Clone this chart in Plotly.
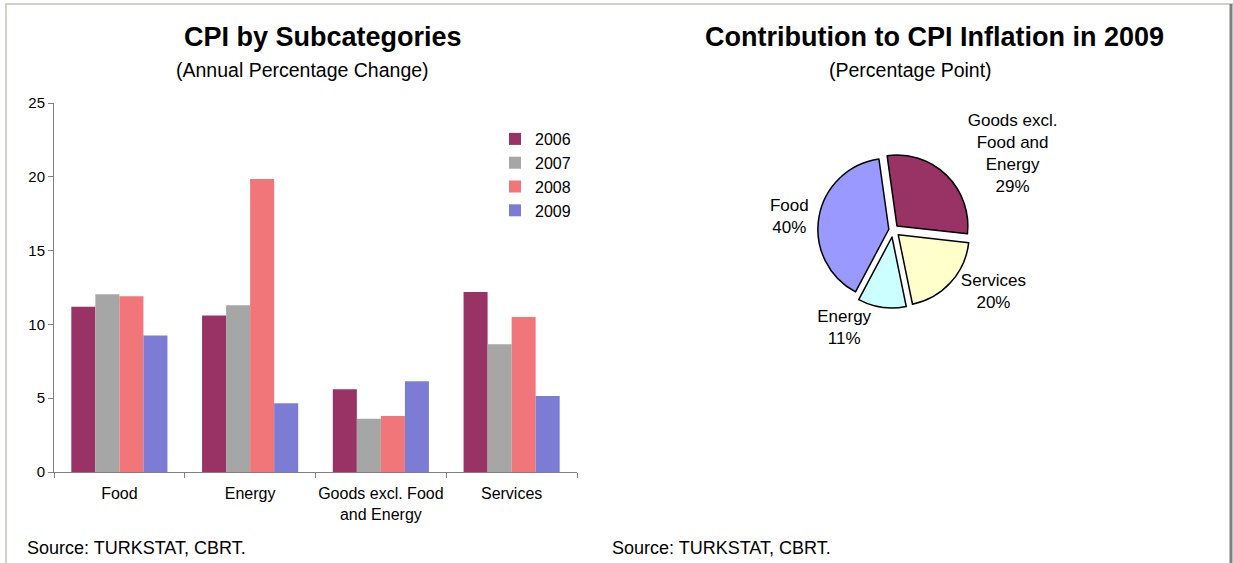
"""
CPI by subcategories and contribution to CPI inflation in 2009
"""
import plotly.graph_objects as go

# Bar chart data (annual percentage change)
categories = ["Food", "Energy", "Goods excl. Food<br>and Energy", "Services"]
years = ["2006", "2007", "2008", "2009"]
values_2006 = [11.2, 10.6, 5.6, 12.2]
values_2007 = [12.05, 11.3, 3.6, 8.65]
values_2008 = [11.9, 19.85, 3.8, 10.5]
values_2009 = [9.25, 4.65, 6.15, 5.15]

# Pie chart data (contribution, percentage point share)
pie_labels = ["Goods excl.<br>Food and<br>Energy", "Services", "Energy", "Food"]
pie_values = [29, 20, 11, 40]

FONT = "Liberation Sans, Arial, sans-serif"
W, H = 1233, 563

bar_colors = {
    "2006": "#993366",
    "2007": "#a6a6a6",
    "2008": "#f0767a",
    "2009": "#7c7cd4",
}
pie_colors = ["#993366", "#ffffcc", "#ccffff", "#9999ff"]

fig = go.Figure()

# Bars, one trace per year
for year, vals in zip(years, [values_2006, values_2007, values_2008, values_2009]):
    fig.add_trace(go.Bar(
        x=categories,
        y=vals,
        name=year,
        marker=dict(color=bar_colors[year], line=dict(width=0)),
        xaxis="x", yaxis="y",
    ))

# Pie of contributions
fig.add_trace(go.Pie(
    labels=pie_labels,
    values=pie_values,
    sort=False,
    direction="clockwise",
    rotation=-8,
    pull=[0.08, 0.1, 0.1, 0.06],
    marker=dict(colors=pie_colors, line=dict(color="black", width=1.5)),
    texttemplate="%{label}<br>%{percent:.0%}",
    textposition="outside",
    textfont=dict(family=FONT, size=17, color="black"),
    domain=dict(x=[815 / W, 971 / W], y=[1 - 308 / H, 1 - 152 / H]),
    showlegend=False,
    hoverinfo="label+percent",
))

fig.update_layout(
    width=W,
    height=H,
    margin=dict(l=0, r=0, t=0, b=0, autoexpand=False),
    paper_bgcolor="white",
    plot_bgcolor="white",
    font=dict(family=FONT, size=16, color="black"),
    barmode="group",
    bargap=0.265,
    bargroupgap=0,
    xaxis=dict(
        domain=[54 / W, 577 / W],
        automargin=False,
        showgrid=False,
        showline=True, linecolor="#808080", linewidth=1,
        ticks="outside", tickson="boundaries", ticklen=5, tickcolor="#808080",
        tickangle=0,
        ticklabelstandoff=7,
        tickfont=dict(size=16),
    ),
    yaxis=dict(
        domain=[1 - 472 / H, 1 - 103 / H],
        automargin=False,
        range=[0, 25],
        dtick=5,
        showgrid=False,
        zeroline=False,
        showline=True, linecolor="#808080", linewidth=1,
        ticks="outside", ticklen=5, tickcolor="#808080",
        tickfont=dict(size=15),
    ),
    legend=dict(
        x=495 / W, y=1 - 122 / H, xanchor="left", yanchor="top",
        font=dict(size=16),
        bgcolor="rgba(0,0,0,0)",
        tracegroupgap=0,
        itemwidth=30,
    ),
)

# Titles, subtitles and sources
annotations = [
    dict(text="<b>CPI by Subcategories</b>", x=323, y=37, size=27),
    dict(text="(Annual Percentage Change)", x=302, y=70, size=19.5),
    dict(text="<b>Contribution to CPI Inflation in 2009</b>", x=934, y=37, size=27),
    dict(text="(Percentage Point)", x=910, y=70, size=19.5),
]
for a in annotations:
    fig.add_annotation(
        text=a["text"], xref="paper", yref="paper",
        x=a["x"] / W, y=1 - a["y"] / H,
        xanchor="center", yanchor="middle", showarrow=False,
        font=dict(family=FONT, size=a["size"], color="black"),
    )
for sx in [25, 610]:
    fig.add_annotation(
        text="Source: TURKSTAT, CBRT.", xref="paper", yref="paper",
        x=sx / W, y=1 - 548 / H, xanchor="left", yanchor="middle",
        showarrow=False, font=dict(family=FONT, size=18, color="black"),
    )

# Frame around the figure
fig.add_shape(type="line", xref="paper", yref="paper", x0=5 / W, x1=1, y0=1 - 4 / H, y1=1 - 4 / H,
              line=dict(color="#d4d0c8", width=2))
fig.add_shape(type="line", xref="paper", yref="paper", x0=6 / W, x1=6 / W, y0=0, y1=1 - 4 / H,
              line=dict(color="#d4d0c8", width=2))
fig.add_shape(type="line", xref="paper", yref="paper", x0=1231 / W, x1=1231 / W, y0=0, y1=1 - 4 / H,
              line=dict(color="#808080", width=3))

# page has a default 8px body margin; drop it so the figure sits at the window corner
fig.write_html("out.html", config={"displayModeBar": False},
               post_script="document.body.style.margin='0';")
